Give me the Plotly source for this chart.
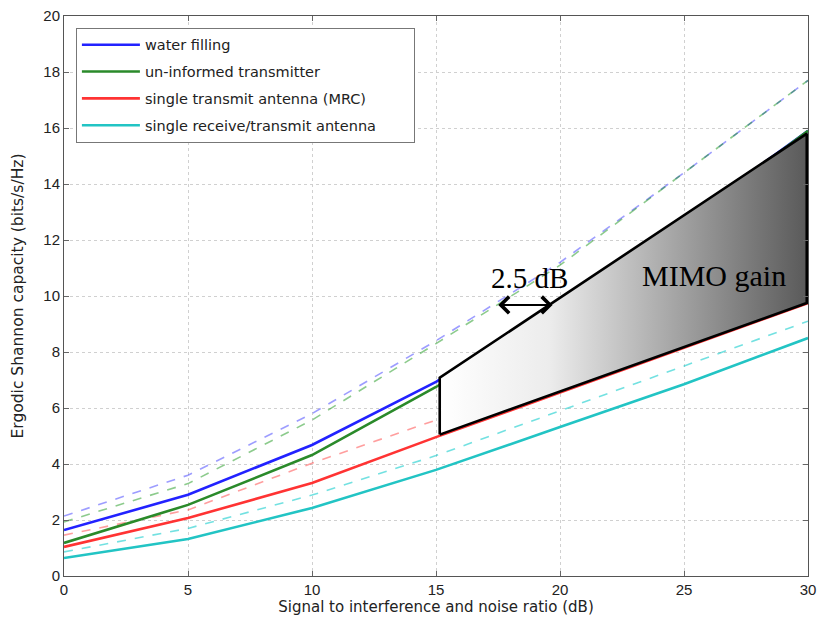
import plotly.graph_objects as go

snr_db = [0, 5, 10, 15, 20, 25, 30]

# solid curves
water_filling = [1.64, 2.90, 4.68, 6.93, 9.7, 12.7, 15.9]
uninformed = [1.18, 2.54, 4.32, 6.75, 9.5, 12.6, 15.9]
mrc = [1.04, 2.07, 3.32, 4.96, 6.55, 8.15, 9.75]
siso = [0.64, 1.32, 2.43, 3.79, 5.32, 6.85, 8.5]

# dashed curves
water_filling_d = [2.14, 3.60, 5.80, 8.40, 11.2, 14.4, 17.7]
uninformed_d = [1.93, 3.30, 5.57, 8.30, 11.1, 14.4, 17.7]
mrc_d = [1.46, 2.36, 4.03, 5.57, 7.5, 9.4, 11.4]
siso_d = [0.86, 1.70, 2.89, 4.30, 5.90, 7.50, 9.10]

names = ["water filling", "un-informed transmitter",
         "single transmit antenna (MRC)", "single receive/transmit antenna"]
solid_colors = ["#2222ff", "#2a8a2a", "#ff3333", "#22c4c4"]
dash_colors = ["rgba(60,60,255,0.5)", "rgba(0,140,0,0.45)",
               "rgba(255,40,40,0.45)", "rgba(0,200,200,0.55)"]

# MIMO gain annotation polygon
mimo_x = [15.15, 15.15, 29.95, 29.95, 15.15]
mimo_y = [5.05, 7.08, 15.8, 9.75, 5.05]
arrow_x = [17.45, 19.7]
arrow_y = 9.68

fig = go.Figure()

for ys, c in zip([water_filling_d, uninformed_d, mrc_d, siso_d], dash_colors):
    fig.add_trace(go.Scatter(x=snr_db, y=ys, mode="lines", showlegend=False,
                             line=dict(color=c, width=1.6, dash="dash")))

pad = "\u00a0" * 7
for i, (ys, c, n) in enumerate(zip([water_filling, uninformed, mrc, siso], solid_colors, names)):
    fig.add_trace(go.Scatter(x=snr_db, y=ys, mode="lines", name=n + (pad if i == 3 else ""),
                             legendgroup=f"g{i}", line=dict(color=c, width=2.6)))

fig.add_trace(go.Scatter(
    x=mimo_x, y=mimo_y, mode="lines", fill="toself", showlegend=False,
    line=dict(color="black", width=2.6),
    fillgradient=dict(type="horizontal",
                      colorscale=[[0, "#ffffff"], [0.3, "#ececec"], [1, "#5a5a5a"]]),
))

fig.add_annotation(x=arrow_x[1], y=arrow_y, ax=arrow_x[0], ay=arrow_y,
                   xref="x", yref="y", axref="x", ayref="y",
                   showarrow=True, arrowside="end+start", arrowhead=4,
                   arrowwidth=2, arrowsize=1.6, arrowcolor="black", text="")
fig.add_annotation(x=18.75, y=10.65, xref="x", yref="y", showarrow=False,
                   text="2.5 dB", font=dict(family="Liberation Serif", size=29, color="black"))
fig.add_annotation(x=26.2, y=10.72, xref="x", yref="y", showarrow=False,
                   text="MIMO gain", font=dict(family="Liberation Serif", size=30, color="black"))

axis_common = dict(showline=True, linecolor="#555", linewidth=1, mirror="ticks",
                   ticks="inside", ticklen=5, tickcolor="#666",
                   showgrid=True, gridcolor="#d0d0d0", griddash="dot", gridwidth=1,
                   zeroline=False, automargin=False, ticklabeloverflow="allow",
                   tickfont=dict(family="Liberation Sans", size=15, color="#222"))

fig.update_xaxes(range=[0, 30], dtick=5, title=dict(
    text="Signal to interference and noise ratio (dB)", standoff=4,
    font=dict(family="DejaVu Sans", size=15, color="#222")), **axis_common)
fig.update_yaxes(range=[0, 20], dtick=2, title=dict(
    text="Ergodic Shannon capacity (bits/s/Hz)", standoff=15,
    font=dict(family="DejaVu Sans", size=15.5, color="#222")), **axis_common)

fig.update_layout(
    width=821, height=628,
    margin=dict(l=64, r=13, t=16, b=52, autoexpand=False),
    plot_bgcolor="white", paper_bgcolor="white",
    legend=dict(x=0.016, y=0.979, xanchor="left", yanchor="top",
                bgcolor="white", bordercolor="#777", borderwidth=1,
                font=dict(family="DejaVu Sans", size=14.5, color="#222"),
                itemwidth=58, tracegroupgap=5),
)

fig.write_html("out.html", config={"displayModeBar": False},
               post_script="document.body.style.margin='0';"
                           "document.documentElement.style.overflow='hidden';")
